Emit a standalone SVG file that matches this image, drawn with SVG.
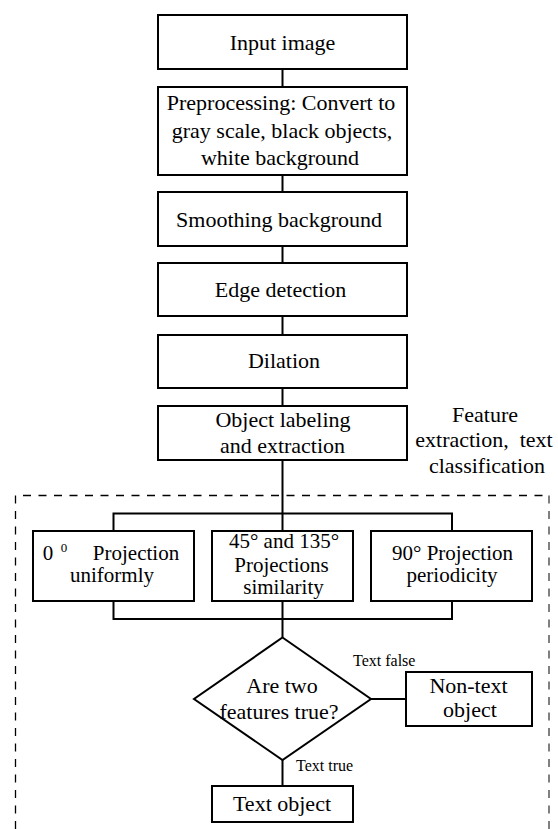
<svg xmlns="http://www.w3.org/2000/svg" width="558" height="829" viewBox="0 0 558 829">
<style>
.box{fill:#fff;stroke:#000;stroke-width:2}
.t{font-family:"Liberation Serif",Tinos,"DejaVu Serif",serif;font-size:22px;fill:#000;text-anchor:middle}
.u{font-size:21px}
.s{font-family:"Liberation Serif",Tinos,"DejaVu Serif",serif;font-size:16px;fill:#000}
.c{fill:none;stroke:#000;stroke-width:2}
.d{fill:none;stroke:#000;stroke-width:1.3;stroke-dasharray:8 7.5}
.dg{fill:none;stroke:#808080;stroke-width:2;stroke-dasharray:8 7.5}
</style>
<rect width="558" height="829" fill="#fff"/>
<g id="region">
<path class="d" d="M15.5,829 V495.5 H549"/>
<path class="dg" d="M549,495.5 V829"/>
<text class="t" x="485" y="422">Feature</text>
<text class="t" x="484" y="447" xml:space="preserve">extraction,  text</text>
<text class="t" x="487" y="473">classification</text>
</g>
<g id="connectors">
<path class="c" d="M282.5,69 V87 M282.5,175 V192 M282.5,246 V263 M282.5,316 V335 M282.5,388 V406 M282.5,460 V531"/>
<path class="c" d="M113.5,531 V513.5 H452 V531"/>
<path class="c" d="M113.5,601 V619 H452 V601 M282.5,601 V637"/>
<path class="c" d="M371,699 H406 M282.5,760 V786"/>
<text class="s" x="353" y="666">Text false</text>
<text class="s" x="296" y="771">Text true</text>
</g>
<g id="n1"><rect class="box" x="158" y="15" width="249" height="54"/><text class="t" x="282.5" y="50">Input image</text></g>
<g id="n2"><rect class="box" x="158" y="87" width="249" height="88"/>
<text class="t" x="281" y="110">Preprocessing: Convert to</text>
<text class="t" x="282" y="137.5">gray scale, black objects,</text>
<text class="t" x="280" y="165">white background</text></g>
<g id="n3"><rect class="box" x="158" y="192" width="249" height="54"/><text class="t" x="279" y="227">Smoothing background</text></g>
<g id="n4"><rect class="box" x="158" y="263" width="249" height="53"/><text class="t" x="280.5" y="297">Edge detection</text></g>
<g id="n5"><rect class="box" x="158" y="335" width="249" height="53"/><text class="t" x="284" y="367.5">Dilation</text></g>
<g id="n6"><rect class="box" x="158" y="406" width="249" height="54"/>
<text class="t" x="283" y="427">Object labeling</text>
<text class="t" x="282.5" y="453">and extraction</text></g>
<g id="n7"><rect class="box" x="33" y="531" width="161" height="70"/>
<text class="t u" x="48" y="560">0</text>
<text class="t" x="64" y="551.5" style="font-size:13px">0</text>
<text class="t u" x="136" y="560">Projection</text>
<text class="t u" x="112" y="582">uniformly</text></g>
<g id="n8"><rect class="box" x="212" y="531" width="141" height="70"/>
<text class="t u" x="284" y="548">45° and 135°</text>
<text class="t u" x="281.5" y="571.5">Projections</text>
<text class="t u" x="283.5" y="593.5">similarity</text></g>
<g id="n9"><rect class="box" x="371" y="531" width="161" height="70"/>
<text class="t u" x="452.5" y="560">90° Projection</text>
<text class="t u" x="452" y="582">periodicity</text></g>
<g id="n10"><path class="box" d="M282.5,637.5 L371,699 L282.5,760 L194,699 Z"/>
<text class="t" x="282" y="692.5">Are two</text>
<text class="t" x="279" y="719">features true?</text></g>
<g id="n11"><rect class="box" x="406" y="672" width="126" height="54"/>
<text class="t" x="468.5" y="692.5">Non-text</text>
<text class="t" x="470" y="717">object</text></g>
<g id="n12"><rect class="box" x="212" y="786" width="141" height="36"/><text class="t" x="282" y="811">Text object</text></g>
</svg>
